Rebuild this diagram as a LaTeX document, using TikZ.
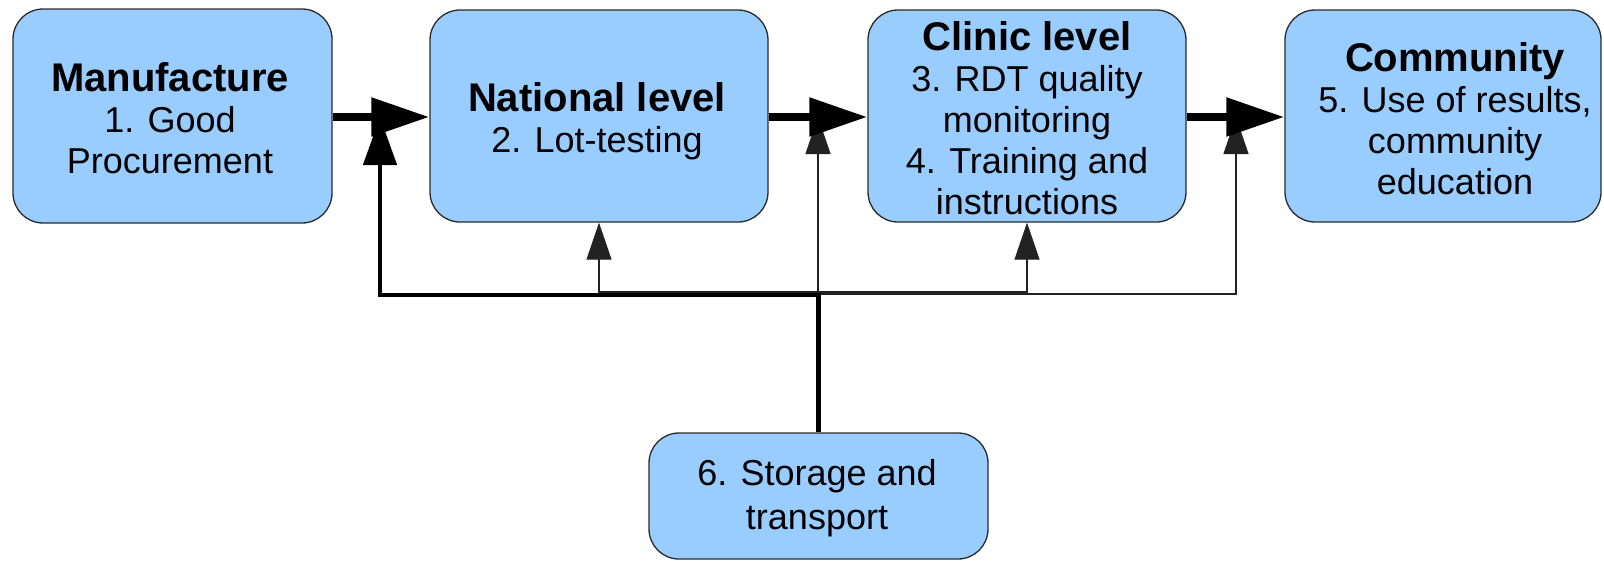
\documentclass[tikz,border=0pt]{standalone}
\usepackage{fontspec}
\setmainfont{Liberation Sans}
\usetikzlibrary{arrows.meta}
\definecolor{boxblue}{HTML}{99CCFF}
\definecolor{boxline}{HTML}{2A2A2A}
\definecolor{thinline}{HTML}{222222}
\newcommand\stagehead[1]{{\fontsize{40}{41}\selectfont\bfseries #1}}
\begin{document}
\begin{tikzpicture}[x=1pt,y=-1pt,
  stage/.style={draw=boxline, line width=1.3pt, fill=boxblue, rounded corners=30pt, inner sep=0pt},
  stagetext/.style={align=center, inner sep=0pt, font=\fontsize{36}{41}\selectfont},
  flow/.style={line width=8.5pt, -{Triangle[length=58pt,width=37pt]}},
  thickfeed/.style={line width=4.5pt, line join=miter, -{Triangle[length=48pt,width=33pt]}},
  thinfeed/.style={draw=thinline, line width=1.2pt, -{Triangle[length=37pt,width=25pt]}},
  thinboth/.style={draw=thinline, line width=1.2pt, {Triangle[length=37pt,width=25pt]}-{Triangle[length=37pt,width=25pt]}}
]
\path[use as bounding box] (0,0) rectangle (1604,560);

\node[stage, minimum width=319pt, minimum height=214pt] (b1) at (172.5,116) {};
\node[stage, minimum width=338pt, minimum height=212pt] (b2) at (599,116) {};
\node[stage, minimum width=318pt, minimum height=212pt] (b3) at (1027,116) {};
\node[stage, minimum width=316pt, minimum height=212pt] (b4) at (1443,116) {};
\node[stage, minimum width=339pt, minimum height=126pt] (b6) at (818.5,496) {};

\node[stagetext] (b1t) at (170,118) {\stagehead{Manufacture}\\1. Good\\Procurement};
\node[stagetext] (b2t) at (597,121) {\stagehead{National level}\\2. Lot-testing};
\node[stagetext] (b3t) at (1027,118) {\stagehead{Clinic level}\\3. RDT quality\\monitoring\\4. Training and\\instructions};
\node[stagetext] (b4t) at (1455,119) {\stagehead{Community}\\5. Use of results,\\community\\education};
\node[stagetext, font=\fontsize{36}{44}\selectfont] (b6t) at (817,498) {6. Storage and\\transport};

\coordinate (jl) at (380,295);
\coordinate (jc) at (818,295);
\coordinate (jr) at (818,294);
\coordinate (jm) at (818,292);
\coordinate (t1) at (380,117);
\coordinate (t2) at (818,117);
\coordinate (t3) at (1236,117);

% feeds from storage and transport
\draw[thinboth] (b2.south) |- (jm) -| (b3.south);
\draw[thinfeed] (jc) -- (t2);
\draw[thinfeed] (jr) -| (t3);
\draw[thickfeed] (b6.north) |- (jl) -- (t1);

% main flow
\draw[flow] (b1.east |- 0,117) -- (b2.west |- 0,117);
\draw[flow] (b2.east |- 0,117) -- (b3.west |- 0,117);
\draw[flow] (b3.east |- 0,117) -- (b4.west |- 0,117);
\end{tikzpicture}
\end{document}
